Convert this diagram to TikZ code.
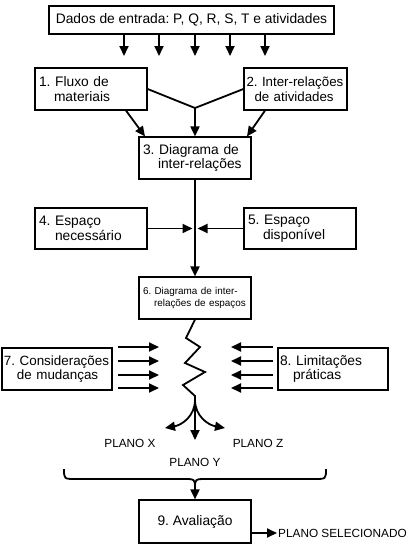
\documentclass[tikz,border=0pt]{standalone}
\usepackage{fontspec}
\setmainfont{Liberation Sans}
\usetikzlibrary{arrows.meta}
\frenchspacing
\begin{document}
\begin{tikzpicture}[x=1pt,y=-1pt,
		box/.style={draw, line width=1.2pt, inner xsep=4pt, inner ysep=2pt, align=left, minimum height=42pt, font=\fontsize{13.8}{14.5}\selectfont},
		arr/.style={line width=1.8pt, -{Triangle[length=10pt,width=9pt]}},
		lbl/.style={font=\fontsize{11.8}{13}\selectfont}]
		\useasboundingbox (0,0) rectangle (417,552);

		\node[box, align=center, minimum width=285pt, minimum height=28pt] (dados) at (191.5,20) {Dados de entrada: P, Q, R, S, T e atividades};
		\node[box, text width=104pt] (fluxo) at (91,89) {1. Fluxo de\\\hspace*{15pt}materiais};
		\node[box, inner xsep=2.5pt, text width=98pt, font=\fontsize{13.3}{14.5}\selectfont] (inter) at (295.5,89) {\mbox{2. Inter-relações}\\\hspace*{8pt}de atividades};
		\node[box, text width=104pt] (diag) at (195,158) {3. Diagrama de\\\hspace*{15pt}inter-relações};
		\node[box, minimum height=41pt, text width=104pt] (nec) at (91,228.5) {4. Espaço\\\hspace*{16pt}necessário};
		\node[box, minimum height=41pt, text width=104pt] (disp) at (300,228.5) {5. Espaço\\\hspace*{15pt}disponível};
		\node[box, text width=104pt, font=\fontsize{9.9}{12}\selectfont] (espacos) at (195,298) {6. Diagrama de inter-\\\hspace*{11pt}relações de espaços};
		\node[box, inner xsep=2pt, text width=106pt, font=\fontsize{13.4}{14.5}\selectfont] (mud) at (57,369) {\mbox{7. Considerações}\\\hspace*{13pt}de mudanças};
		\node[box, inner xsep=2pt, text width=106pt] (lim) at (333,369) {8. Limitações\\\hspace*{13pt}práticas};
		\node[box, align=center, minimum width=112pt, minimum height=43pt] (aval) at (195,521.5) {9. Avaliação};

		\foreach \x in {124,159,195,230,265}
			\draw[arr] (\x,0 |- dados.south) -- (\x,56);

		\coordinate (jn) at (195,108);
		\draw[line width=1.8pt] (fluxo.east) -- (jn) -- (inter.west);
		\draw[arr] (jn) -- (diag.north);
		\draw[arr] ([xshift=35pt]fluxo.south) -- ([xshift=-50pt]diag.north);
		\draw[arr] ([xshift=-30.5pt]inter.south) -- ([xshift=52pt]diag.north);

		\coordinate (jn2) at (195,228.5);
		\draw[arr] (diag.south) -- (espacos.north);
		\draw[arr, shorten >=2.5pt] (nec.east) -- (jn2);
		\draw[arr, shorten >=2.5pt] (disp.west) -- (jn2);

		\draw[line width=1.8pt, line join=miter] (espacos.south) -- (186,338) -- (200,347) -- (185,363) -- (205,372) -- (183,385) -- (195,396) -- (195,400) coordinate (fk);
		\foreach \y in {347,361,375,388} {
			\draw[arr] (118,\y) -- (159,\y);
			\draw[arr] (273,\y) -- (231,\y);
		}

		\draw[arr] (fk) .. controls (195,416) and (182,425) .. (165,428);
		\draw[arr] (fk) -- (195,440);
		\draw[arr] (fk) .. controls (195,416) and (208,425) .. (225,428);
		\node[lbl] (px) at (130,443) {PLANO X};
		\node[lbl] (pz) at (258,443) {PLANO Z};
		\node[lbl] (py) at (195,462) {PLANO Y};

		\draw[line width=1.8pt] (64,469) .. controls (64,479) .. (76,479) -- (183,479) .. controls (195,479) .. (195,488) coordinate (bt);
		\draw[line width=1.8pt] (326,469) .. controls (326,479) .. (314,479) -- (207,479) .. controls (195,479) .. (195,488);
		\draw[arr] (bt) -- (aval.north);

		\node[lbl, anchor=west, inner sep=1pt] (sel) at (277,533) {PLANO SELECIONADO};
		\draw[arr] ([yshift=-11.5pt]aval.east) -- (sel.west);
	\end{tikzpicture}
\end{document}
